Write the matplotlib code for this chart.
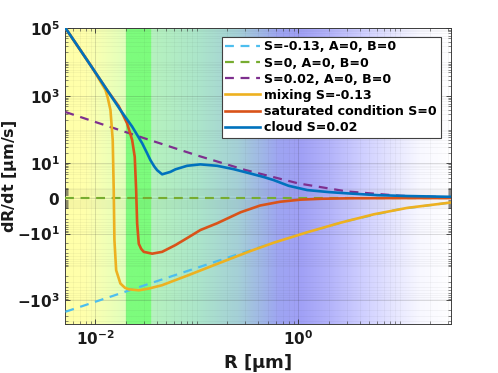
import numpy as np
import matplotlib
matplotlib.use("Agg")
import matplotlib.pyplot as plt
from matplotlib.ticker import FixedLocator, NullFormatter

plt.rcParams["font.family"] = ["DejaVu Sans"]
plt.rcParams["font.weight"] = "bold"
plt.rcParams["mathtext.fontset"] = "dejavusans"

# radius [um] and growth rate [um/s]
r_line = [0.00506, 0.01, 0.03, 0.1, 0.3, 1.0, 3.0, 10.0, 31.6]
v_cyan = [-2190, -1110, -370, -111, -37, -11.1, -3.7, -1.1, -0.35]
v_purple = [338, 171, 57, 17, 5.7, 1.7, 0.57, 0.17, 0.054]
r_green = [0.00506, 31.6]
v_green = [0, 0]

r_mix = [0.00506, 0.0071, 0.0090, 0.0108, 0.01256, 0.0132, 0.01406, 0.0148, 0.01514,
         0.01538, 0.0160, 0.01762, 0.0195, 0.02128, 0.02673, 0.0335, 0.0454, 0.0614,
         0.08, 0.158, 0.336, 0.57, 1.22, 2.59, 5.52, 11.8, 31.6]
v_mix = [1e5, 22400, 8000, 3200, 1500, 900, 387, 50, 0.7, -16, -131, -323, -430, -478,
         -512, -455, -362, -256, -190, -85, -35, -19.5, -9.1, -4.3, -2.0, -0.94, -0.35]

r_sat = [0.00506, 0.0071, 0.0100, 0.0130, 0.01698, 0.0205, 0.0230, 0.02439, 0.02518,
         0.02576, 0.02673, 0.0282, 0.02994, 0.0362, 0.0454, 0.0614, 0.080, 0.108, 0.158,
         0.27, 0.42, 0.66, 1.05, 1.7, 3.3, 10.0, 31.6]
v_sat = [1e5, 22400, 4900, 1510, 500, 157, 50, 15.3, 0.7, -4.6, -21, -30, -37, -42, -37,
         -23, -14, -7.7, -4.5, -1.6, -0.65, -0.28, -0.11, -0.045, -0.012, -0.0013, -0.0002]

r_cloud = [0.00506, 0.0071, 0.0100, 0.0130, 0.01762, 0.0230, 0.02886, 0.0320, 0.03483,
           0.0380, 0.04055, 0.04543, 0.0548, 0.0614, 0.080, 0.108, 0.158, 0.229, 0.335,
           0.45, 0.567, 0.8, 1.22, 2.0, 3.25, 6.0, 11.8, 31.6]
v_cloud = [1e5, 22400, 4900, 1510, 387, 125, 40, 21, 12, 7.5, 5.6, 4.0, 4.9, 6.0, 7.9,
           8.8, 7.9, 6.1, 4.3, 3.2, 2.4, 1.3, 0.72, 0.5, 0.36, 0.22, 0.15, 0.09]

labels = ["S=-0.13, A=0, B=0", "S=0, A=0, B=0", "S=0.02, A=0, B=0",
          "mixing S=-0.13", "saturated condition S=0", "cloud S=0.02"]

# background colour stops (log10 R, rgb)
bg_pos = [-2.3, -2.1, -1.95, -1.705, -1.70, -1.455, -1.45, -1.0, -0.6, -0.35,
          -0.2, 0.02, 0.29, 0.61, 0.94, 1.2, 1.5]
bg_rgb = [(255, 255, 168), (255, 255, 172), (245, 255, 180), (225, 255, 188),
          (125, 252, 125), (125, 252, 125), (182, 242, 190), (172, 230, 202),
          (165, 208, 215), (160, 182, 232), (158, 165, 242), (160, 160, 246),
          (178, 178, 250), (205, 205, 255), (230, 230, 255), (248, 248, 255),
          (255, 255, 255)]


def fwd(y):
    y = np.asarray(y, dtype=float)
    return np.sign(y) * np.log10(1 + np.abs(y))


def inv(t):
    t = np.asarray(t, dtype=float)
    return np.sign(t) * (10 ** np.abs(t) - 1)


fig = plt.figure(figsize=(4.98, 3.73), dpi=100)
ax = fig.add_axes([0.1305, 0.1314, 0.7745, 0.7936])
ax.set_xscale("log")
ax.set_yscale("function", functions=(fwd, inv))

# gradient background
xs = np.linspace(-2.3, 1.5, 600)
rgb = np.array(bg_rgb) / 255.0
img = np.stack([np.interp(xs, bg_pos, rgb[:, i]) for i in range(3)], axis=-1)[None, :, :]
ax.imshow(img, extent=[0, 1, 0, 1], transform=ax.transAxes, aspect="auto", zorder=0)

ax.plot(r_line, v_cyan, "--", color="#4DBEEE", lw=1.6, dashes=(4, 3), label=labels[0], zorder=3)
ax.plot(r_green, v_green, "--", color="#77AC30", lw=1.6, dashes=(4, 3), label=labels[1], zorder=3)
ax.plot(r_line, v_purple, "--", color="#7E2F8E", lw=1.6, dashes=(4, 3), label=labels[2], zorder=3)
ax.plot(r_mix, v_mix, color="#EDB120", lw=1.9, label=labels[3], zorder=4)
ax.plot(r_sat, v_sat, color="#D95319", lw=1.9, label=labels[4], zorder=4)
ax.plot(r_cloud, v_cloud, color="#0072BD", lw=1.9, label=labels[5], zorder=4)

ax.set_xlim(10 ** -2.3, 10 ** 1.5)
ax.set_ylim(-10 ** 3.7, 1e5)

# ticks
ax.xaxis.set_major_locator(FixedLocator([1e-2, 1e0]))
ax.set_xticklabels([r"$\mathbf{10^{-2}}$", r"$\mathbf{10^{0}}$"])
xminor = [k * 10.0 ** n for n in range(-3, 2) for k in range(1, 10)
          if k * 10.0 ** n not in (1e-2, 1e0)]
ax.xaxis.set_minor_locator(FixedLocator(xminor))
ax.xaxis.set_minor_formatter(NullFormatter())

ymajor = [-1e3, -10, 0, 10, 1e3, 1e5]
ax.yaxis.set_major_locator(FixedLocator(ymajor))
ax.set_yticklabels([r"$\mathbf{-10^{3}}$", r"$\mathbf{-10^{1}}$", r"$\mathbf{0}$",
                    r"$\mathbf{10^{1}}$", r"$\mathbf{10^{3}}$", r"$\mathbf{10^{5}}$"])
yminor = []
for n in range(-1, 5):
    for k in range(1, 10):
        v = k * 10.0 ** n
        if v not in ymajor:
            yminor += [v, -v]
ax.yaxis.set_minor_locator(FixedLocator(sorted(yminor)))
ax.yaxis.set_minor_formatter(NullFormatter())

ax.tick_params(which="both", direction="in", top=True, right=True, colors="0.2",
               labelsize=11, labelcolor="0.1")
ax.tick_params(which="major", length=3.5, width=0.6)
ax.tick_params(which="minor", length=2, width=0.4)
ax.grid(True, which="major", color="0.15", alpha=0.18, lw=0.6, zorder=1)
ax.grid(True, which="minor", color="0.15", alpha=0.06, lw=0.5, zorder=1)
ax.set_axisbelow(False)
for s in ax.spines.values():
    s.set_color("0.25")
    s.set_linewidth(0.7)

ax.set_xlabel(r"R [$\mathbf{\mu}$m]", fontsize=13, fontweight="bold", color="0.1", labelpad=3)
ax.set_ylabel(r"dR/dt [$\mathbf{\mu}$m/s]", fontsize=11.5, fontweight="bold", color="0.1")
ax.yaxis.set_label_coords(-0.118, 0.5)

leg = ax.legend(loc="upper right", bbox_to_anchor=(0.974, 0.971),
                prop={"weight": "bold", "size": 9.1}, fancybox=False, framealpha=1,
                edgecolor="0.25", handlelength=2.7, handletextpad=0.37,
                labelspacing=0.25, borderpad=0.3, borderaxespad=0)
leg.get_frame().set_linewidth(0.8)
leg.set_zorder(10)

fig.savefig("out.png", dpi=100)
